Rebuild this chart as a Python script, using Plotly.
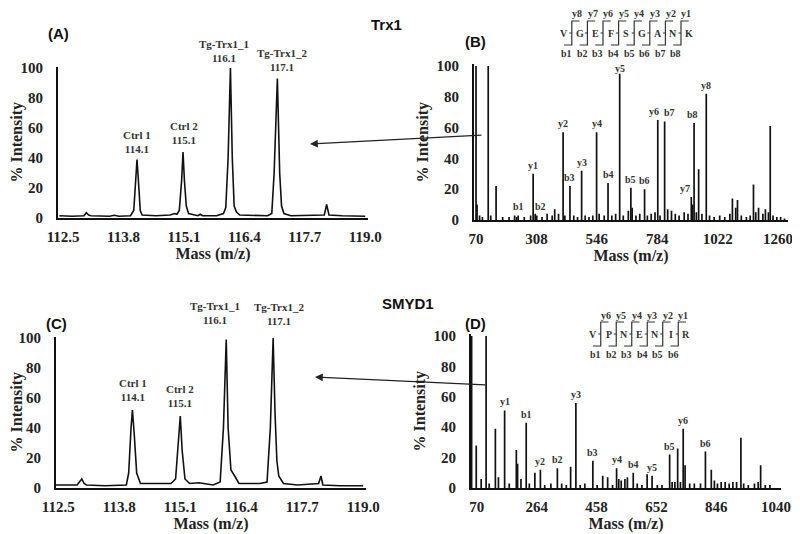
import plotly.graph_objects as go

# The page body has an 8px margin, so the figure is drawn 8px smaller and all
# reference pixel positions below are shifted by OFF.
OFF = 8
W, H = 800 - OFF, 534 - OFF

# ---------------- data ----------------
# Panel A (Trx1 reporter region) profile points (m/z, % intensity)
a_mz = [112.42, 112.7, 112.95, 113.0, 113.05, 113.1, 113.5, 113.6, 113.7, 113.95, 114.02, 114.06, 114.09,
        114.12, 114.16, 114.2, 114.5, 114.8, 114.9, 114.95, 115.0, 115.05, 115.08, 115.11, 115.15, 115.2,
        115.4, 115.45, 115.5, 115.8, 115.95, 116.0, 116.05, 116.1, 116.14, 116.18, 116.23, 116.3, 116.6,
        116.9, 116.99, 117.04, 117.11, 117.16, 117.2, 117.25, 117.4, 117.8, 118.12, 118.17, 118.22, 118.5, 119.0]
a_int = [1.5, 1.2, 1.5, 3.5, 2.0, 1.5, 1.2, 1.8, 1.2, 1.5, 5, 25, 39,
         25, 5, 2, 1.5, 2, 3, 2.5, 5, 25, 44, 25, 8, 3,
         1.5, 2.5, 1.5, 1.5, 3, 7, 40, 100, 40, 8, 4, 2, 2,
         1.5, 3, 30, 93, 30, 8, 3, 1.5, 1.5, 2, 9, 2, 1.5, 1.2]

# Panel C (SMYD1 reporter region)
c_mz = [112.45, 112.9, 113.0, 113.05, 113.1, 113.5, 113.95, 114.0, 114.05, 114.08, 114.12, 114.17, 114.25,
        114.6, 114.9, 115.0, 115.05, 115.1, 115.14, 115.2, 115.3, 115.5, 115.8, 115.95, 116.02, 116.08,
        116.12, 116.18, 116.28, 116.35, 116.8, 116.95, 117.02, 117.08, 117.12, 117.16, 117.2, 117.3,
        117.6, 118.05, 118.1, 118.14, 118.5, 119.0]
c_int = [2, 2, 6, 3, 2, 1.5, 2, 10, 40, 52, 35, 10, 3,
         3, 3, 6, 30, 48, 25, 6, 3, 3.5, 2, 4, 40, 99,
         40, 12, 7, 3, 3, 4, 40, 100, 50, 18, 8, 3,
         2, 3, 8, 2, 1.5, 1.5]

reporter_mz = [114.1, 115.1, 116.1, 117.1]
reporter_names = ["Ctrl 1", "Ctrl 2", "Tg-Trx1_1", "Tg-Trx1_2"]
a_rep_int = [39, 44, 100, 93]
c_rep_int = [52, 48, 99, 100]

# Panel B (MS/MS, VGEFSGANK) stick spectrum
b_mz = [70, 74, 84, 95, 118, 128, 149, 175, 200, 222, 230, 236, 260, 285, 295, 303, 309, 330, 350, 370, 380,
        395, 413, 420, 440, 455, 470, 486, 500, 515, 530, 545, 555, 575, 590, 605, 620, 636, 650, 670, 680,
        685, 700, 715, 734, 745, 760, 775, 786, 795, 813, 825, 840, 855, 870, 890, 905, 918, 923, 929, 938,
        947, 960, 977, 990, 1008, 1030, 1050, 1070, 1080, 1093, 1100, 1115, 1135, 1150, 1163, 1172, 1183,
        1200, 1210, 1222, 1229, 1240, 1255, 1270, 1285]
b_int = [100, 10, 3, 2, 100, 3, 22, 2, 2, 3, 2, 3, 2, 3, 30, 4, 3, 2, 4, 3, 7,
         4, 57, 3, 22, 3, 2, 32, 3, 2, 3, 57, 4, 3, 24, 3, 4, 95, 3, 6, 21,
         8, 3, 4, 20, 3, 4, 5, 65, 3, 64, 7, 6, 4, 3, 5, 4, 15, 10, 63, 5,
         33, 4, 82, 3, 2, 3, 2, 4, 14, 8, 13, 3, 2, 3, 23, 5, 8,
         4, 7, 5, 61, 3, 2, 2, 1]
b_ion_labels = ["b1", "b2", "y1", "y2", "b3", "y3", "y4", "b4", "y5", "b5", "b6", "y6", "b7", "y7", "b8", "y8"]
b_ion_mz = [236, 325, 295, 413, 440, 486, 545, 590, 636, 680, 734, 786, 813, 918, 929, 977]
b_ion_int = [3, 3, 30, 57, 22, 32, 57, 24, 95, 21, 20, 65, 64, 15, 63, 82]

# Panel D (MS/MS, VPNENIR) stick spectrum
d_mz = [53, 68, 84, 100, 110, 130, 140, 160, 175, 198, 202, 213, 230, 240, 258, 276, 290, 310, 331, 345,
        360, 374, 391, 405, 420, 446, 460, 478, 494, 510, 523, 530, 538, 550, 558, 577, 590, 605, 622,
        638, 655, 670, 695, 703, 712, 721, 730, 739, 745, 760, 775, 795, 811, 830, 840, 850, 862, 875,
        888, 900, 912, 926, 935, 950, 970, 982, 990, 1005, 1020]
d_int = [100, 28, 6, 100, 3, 39, 7, 51, 3, 25, 16, 6, 43, 3, 10, 12, 2, 3, 13, 3,
         2, 14, 56, 2, 3, 18, 2, 8, 7, 2, 13, 6, 5, 6, 7, 10, 3, 2, 9,
         8, 2, 2, 22, 4, 4, 26, 4, 39, 15, 3, 3, 3, 24, 12, 5, 3, 4, 4,
         3, 4, 4, 33, 3, 2, 3, 4, 15, 2, 2]
d_ion_labels = ["y1", "b1", "y2", "b2", "y3", "b3", "y4", "b4", "y5", "b5", "y6", "b6"]
d_ion_mz = [160, 230, 276, 331, 391, 446, 523, 577, 638, 695, 739, 811]
d_ion_int = [51, 43, 12, 13, 56, 18, 13, 10, 8, 22, 39, 24]

seq_b = ["V", "G", "E", "F", "S", "G", "A", "N", "K"]
seq_d = ["V", "P", "N", "E", "N", "I", "R"]

ticks_ac = [112.5, 113.8, 115.1, 116.4, 117.7, 119.0]
ticks_b = [70, 308, 546, 784, 1022, 1260]
ticks_d = [70, 264, 458, 652, 846, 1040]
ticks_y = [0, 20, 40, 60, 80, 100]

# ---------------- layout helpers ----------------
SERIF = "Liberation Serif"
SANS = "Liberation Sans"


def xd(x0, x1):
    return [(x0 - OFF) / W, (x1 - OFF) / W]


def yd(ybot, y100):
    # ybot: pixel of 0, y100: pixel of 100 -> domain for range [0, 101]
    ytop = ybot - (ybot - y100) * 1.01
    return [1 - (ybot - OFF) / H, 1 - (ytop - OFF) / H]


def px(x, y):
    return (x - OFF) / W, 1 - (y - OFF) / H


def sticks(mz, inten):
    xs, ys = [], []
    for m, v in zip(mz, inten):
        xs += [m, m, None]
        ys += [0, v, None]
    return xs, ys


def text_at(x, y, txt, font):
    X, Y = px(x, y)
    return dict(text=txt, x=X, y=Y, xref="paper", yref="paper", showarrow=False,
                xanchor="center", yanchor="middle", font=font)


fig = go.Figure()

line = dict(color="#111111", width=1.6)
fig.add_trace(go.Scatter(x=a_mz, y=a_int, mode="lines", line=line, xaxis="x", yaxis="y", hoverinfo="skip"))
bx, by = sticks(b_mz, b_int)
fig.add_trace(go.Scatter(x=bx, y=by, mode="lines", line=dict(color="#111111", width=1.7), xaxis="x2", yaxis="y2", hoverinfo="skip"))
fig.add_trace(go.Scatter(x=c_mz, y=c_int, mode="lines", line=line, xaxis="x3", yaxis="y3", hoverinfo="skip"))
dx, dy = sticks(d_mz, d_int)
fig.add_trace(go.Scatter(x=dx, y=dy, mode="lines", line=dict(color="#111111", width=1.7), xaxis="x4", yaxis="y4", hoverinfo="skip"))

tickfont = dict(family=SERIF, size=15, color="#222222", weight="bold")
titlefont = dict(family=SERIF, size=16, color="#222222", weight="bold")


def xax(dom, rng, tv, anchor):
    return dict(domain=dom, range=rng, tickvals=tv, ticktext=[f"{t:.1f}" if isinstance(t, float) else str(t) for t in tv],
                showgrid=False, zeroline=False, showline=True, linecolor="#111111", linewidth=2,
                ticks="", tickfont=tickfont, ticklabelstandoff=4, anchor=anchor, automargin=False,
                title=dict(text="Mass (m/z)", font=titlefont, standoff=2))


def yax(dom, anchor):
    return dict(domain=dom, range=[0, 101], tickvals=ticks_y, showgrid=False, zeroline=False,
                showline=True, linecolor="#111111", linewidth=2, ticks="", tickfont=tickfont,
                ticklabelstandoff=10, anchor=anchor, automargin=False,
                title=dict(text="% Intensity", font=titlefont, standoff=4))


fig.update_layout(
    width=W, height=H, margin=dict(l=0, r=0, t=0, b=0, pad=0), autosize=False,
    paper_bgcolor="white", plot_bgcolor="white", showlegend=False,
    xaxis=xax(xd(58, 368), [112.39, 119.06], ticks_ac, "y"),
    yaxis=yax(yd(218, 68), "x"),
    xaxis2=xax(xd(474, 788), [62, 1299], ticks_b, "y2"),
    yaxis2=yax(yd(220, 66), "x2"),
    xaxis3=xax(xd(56, 366), [112.45, 119.06], ticks_ac, "y3"),
    yaxis3=yax(yd(488, 338), "x3"),
    xaxis4=xax(xd(471, 781), [51, 1056], ticks_d, "y4"),
    yaxis4=yax(yd(488, 336), "x4"),
)

ann = []
# panel letters and titles
sansfont = dict(family=SANS, size=15, color="#111111", weight="bold")
for txt, (x, y) in [("(A)", (58, 34)), ("(B)", (475, 41)), ("(C)", (56, 323)), ("(D)", (475, 323)),
                    ("Trx1", (386, 24)), ("SMYD1", (408, 303))]:
    ann.append(text_at(x, y, txt, sansfont))

# reporter ion labels
labfont = dict(family=SERIF, size=11, color="#333333", weight="bold")
a_shift = [(0, 3), (0, 4), (-6, 2), (5, 3)]
c_shift = [(0, 5), (0, 5), (-12, 12), (5, 9)]
for (xr, yr, ints, shifts) in [("x", "y", a_rep_int, a_shift), ("x3", "y3", c_rep_int, c_shift)]:
    for m, v, name, (sx, sy) in zip(reporter_mz, ints, reporter_names, shifts):
        ann.append(dict(text=f"{name}<br>{m:.1f}", x=m, y=v, xref=xr, yref=yr, showarrow=False,
                        xanchor="center", yanchor="bottom", xshift=sx, yshift=sy, font=labfont))

# fragment ion labels
ionfont = dict(family=SERIF, size=10, color="#333333", weight="bold")
ion_xshift = {("x2", "y6"): -4, ("x2", "b7"): 5, ("x2", "y7"): -6, ("x2", "b8"): -2}
ion_yshift = {("x2", "y5"): -2}
for (xr, yr, labs, mzs, ints) in [("x2", "y2", b_ion_labels, b_ion_mz, b_ion_int),
                                  ("x4", "y4", d_ion_labels, d_ion_mz, d_ion_int)]:
    for lab, m, v in zip(labs, mzs, ints):
        ann.append(dict(text=lab, x=m, y=v, xref=xr, yref=yr, showarrow=False,
                        xanchor="center", yanchor="bottom", yshift=ion_yshift.get((xr, lab), 1),
                        xshift=ion_xshift.get((xr, lab), 0), font=ionfont))

# arrows linking MS/MS to reporter panels
for (hx, hy, tx, ty) in [(310, 144, 483, 135), (315, 377, 487, 385)]:
    X, Y = px(hx, hy)
    ann.append(dict(text="", x=X, y=Y, xref="paper", yref="paper", showarrow=True,
                    ax=tx - hx, ay=ty - hy, arrowhead=2, arrowsize=1.3, arrowwidth=1.2, arrowcolor="#222222"))

# peptide sequence fragmentation diagrams
shapes = []
seqfont = dict(family=SERIF, size=10, color="#333333", weight="bold")


def seq_diagram(seq, x0, step, yl):
    n = len(seq)
    for i, r in enumerate(seq):
        ann.append(text_at(x0 + i * step, yl, r, seqfont))
    for i in range(n - 1):
        xv = x0 + (i + 0.5) * step
        yt, yb = yl - 12, yl + 12
        pts = [(xv - step * 0.5, yb), (xv, yb), (xv, yt), (xv + step * 0.5, yt)]
        path = "M " + " L ".join(f"{(p[0] - OFF) / W},{1 - (p[1] - OFF) / H}" for p in pts)
        shapes.append(dict(type="path", path=path, xref="paper", yref="paper",
                           line=dict(color="#333333", width=1.2)))
        X, Y = px(xv - 2.5, yl)
        X2, _ = px(xv, yl)
        shapes.append(dict(type="line", x0=X, x1=X2, y0=Y, y1=Y, xref="paper", yref="paper",
                           line=dict(color="#333333", width=1)))
        ann.append(text_at(xv + step * 0.33, yl - 19, f"y{n - 1 - i}", seqfont))
        ann.append(text_at(xv - step * 0.33, yl + 20, f"b{i + 1}", seqfont))


seq_diagram(seq_b, 564, 15.6, 33)
seq_diagram(seq_d, 593, 15.5, 334)

fig.update_layout(annotations=ann, shapes=shapes)
fig.write_html("out.html")
